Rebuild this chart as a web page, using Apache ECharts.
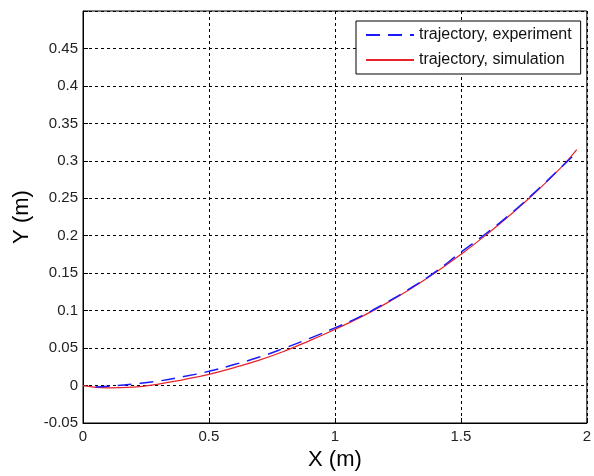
<!DOCTYPE html>
<html>
<head>
<meta charset="utf-8">
<script src="https://cdn.jsdelivr.net/npm/echarts@6/dist/echarts.min.js"></script>
<style>
  html, body { margin: 0; padding: 0; background: #fff; }
  #chart { width: 594px; height: 476px; }
</style>
</head>
<body>
<div id="chart"></div>
<script>
// Measured trajectory (X in m, Y in m)
const expX = [0.05, 0.1, 0.2, 0.3, 0.4, 0.5, 0.6, 0.7, 0.8, 0.9, 1.0, 1.1, 1.2, 1.3, 1.4, 1.5, 1.6, 1.7, 1.8, 1.9, 1.95];
const expY = [-0.002, -0.001, 0.002, 0.006, 0.012, 0.019, 0.028, 0.038, 0.050, 0.063, 0.077, 0.092, 0.110, 0.130, 0.152, 0.178, 0.203, 0.230, 0.260, 0.292, 0.308];

// Simulated trajectory
const simX = [0, 0.1, 0.2, 0.3, 0.4, 0.5, 0.6, 0.7, 0.8, 0.9, 1.0, 1.1, 1.2, 1.3, 1.4, 1.5, 1.6, 1.7, 1.8, 1.9, 1.96];
const simY = [0, -0.003, -0.002, 0.002, 0.008, 0.015, 0.024, 0.034, 0.046, 0.060, 0.075, 0.091, 0.109, 0.129, 0.151, 0.175, 0.201, 0.229, 0.259, 0.292, 0.315];

const seriesNames = ['trajectory, experiment', 'trajectory, simulation'];
const xTicks = [0, 0.5, 1, 1.5, 2];
const yTicks = [-0.05, 0, 0.05, 0.1, 0.15, 0.2, 0.25, 0.3, 0.35, 0.4, 0.45];

const pair = (xs, ys) => xs.map((x, i) => [x, ys[i]]);
const fmt = v => Math.round(v * 1000) / 1000;

const chart = echarts.init(document.getElementById('chart'), null, { renderer: 'canvas' });
const font = 'Liberation Sans, Arial, sans-serif';
const gridLine = { show: true, lineStyle: { color: '#000', type: [3, 3], width: 1 } };

chart.setOption({
  animation: false,
  backgroundColor: '#fff',
  grid: { left: 83, right: 5, top: 11, bottom: 50, show: true, borderColor: '#000', borderWidth: 1 },
  xAxis: {
    type: 'value', min: xTicks[0], max: xTicks[xTicks.length - 1], interval: 0.5,
    name: 'X (m)', nameLocation: 'middle', nameGap: 26,
    nameTextStyle: { fontFamily: font, fontSize: 22, color: '#000' },
    axisLine: { show: true, onZero: false, lineStyle: { color: '#000' } },
    axisTick: { show: true, inside: true, length: 5, lineStyle: { color: '#000' } },
    axisLabel: {
      fontFamily: font, fontSize: 15, color: '#222', margin: 6,
      formatter: v => xTicks.some(t => Math.abs(t - v) < 1e-9) ? String(fmt(v)) : ''
    },
    splitLine: gridLine
  },
  yAxis: {
    type: 'value', min: -0.05, max: 0.5, interval: 0.05,
    name: 'Y (m)', nameLocation: 'middle', nameGap: 50, nameRotate: 90,
    nameTextStyle: { fontFamily: font, fontSize: 22, color: '#000' },
    axisLine: { show: true, onZero: false, lineStyle: { color: '#000' } },
    axisTick: { show: true, inside: true, length: 5, lineStyle: { color: '#000' } },
    axisLabel: {
      fontFamily: font, fontSize: 15, color: '#222', margin: 5,
      formatter: v => yTicks.some(t => Math.abs(t - v) < 1e-9) ? String(fmt(v)) : ''
    },
    splitLine: gridLine
  },
  legend: {
    orient: 'vertical', left: 356, top: 21,
    padding: [6, 9, 6, 9], itemGap: 9, itemWidth: 48, itemHeight: 16,
    backgroundColor: '#fff', borderColor: '#000', borderWidth: 1, borderRadius: 0,
    textStyle: { fontFamily: font, fontSize: 16, color: '#111' },
    itemStyle: { opacity: 0 },
    data: seriesNames
  },
  series: [
    {
      name: seriesNames[1], type: 'line', data: pair(simX, simY),
      showSymbol: false, symbol: 'none', smooth: true,
      lineStyle: { color: '#e8222b', width: 1.2 }, itemStyle: { color: '#e8222b' }
    },
    {
      name: seriesNames[0], type: 'line', data: pair(expX, expY),
      showSymbol: false, symbol: 'none', smooth: true, z: 3,
      lineStyle: { color: '#1a1aff', width: 1.5, type: [14, 8] }, itemStyle: { color: '#1a1aff' }
    }
  ]
});
</script>
</body>
</html>
